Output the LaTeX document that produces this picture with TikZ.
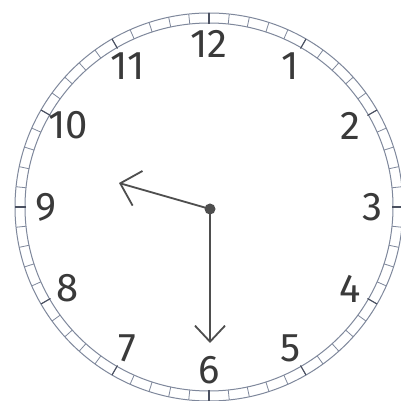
\documentclass[tikz,border=0pt]{standalone}
\usepackage{fontspec}
\setmainfont{Fira Sans}
\usetikzlibrary{arrows.meta,calc}
\definecolor{ringgray}{HTML}{7F889C}
\definecolor{tickdark}{HTML}{4A5060}
\definecolor{handgray}{HTML}{4E4E4E}
\definecolor{numgray}{HTML}{3A3A3A}
\tikzset{
  numeral/.style={font=\fontsize{40}{40}\selectfont, text=numgray, inner sep=0pt},
  minortick/.style={draw=ringgray, line width=0.8pt},
  majortick/.style={draw=tickdark, line width=1.1pt},
  hand/.style={draw=handgray, line width=1.8pt, line cap=round},
}
\begin{document}
\begin{tikzpicture}[x=1pt, y=1pt]
  \useasboundingbox[fill=white] (0,0) rectangle (401,401);
  % Zifferblatt
  \coordinate (c) at (209,194);
  \draw[ringgray, line width=1pt] (c) circle (194);
  \draw[ringgray, line width=1pt] (c) circle (184);

  % Minutenstriche
  \foreach \m in {0,...,59}
    \draw[minortick] ($(c)+(\m*6:184)$) -- ($(c)+(\m*6:194)$);
  \foreach \m in {0,...,11}
    \draw[majortick] ($(c)+(\m*30:183)$) -- ($(c)+(\m*30:194)$);

  % Ziffern
  \foreach \h in {1,...,12}
    \node[numeral] (n\h) at ($(c)+({90-30*\h}:163)$) {\h};

  % Zeiger
  \coordinate (hub) at (210,192);
  \coordinate (hourtip) at (119,218);
  \coordinate (mintip) at (210,58);
  \draw[hand, -{Straight Barb[length=18pt, width=36pt, line width=1.8pt]}] (hub) -- (hourtip);
  \draw[hand, -{Straight Barb[length=16pt, width=30pt, line width=1.8pt]}] (hub) -- (mintip);
  \fill[handgray] (hub) circle (5.5);
\end{tikzpicture}
\end{document}
